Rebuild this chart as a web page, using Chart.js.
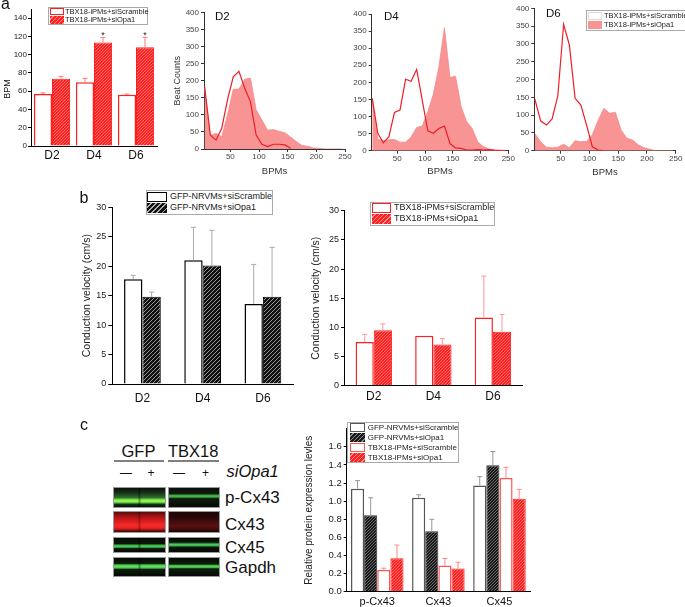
<!DOCTYPE html>
<html>
<head>
<meta charset="utf-8">
<script src="https://cdn.jsdelivr.net/npm/chart.js@4.4.1/dist/chart.umd.min.js"></script>
<style>
  body { margin: 0; width: 685px; height: 607px; position: relative; overflow: hidden; background: #fff;
         font-family: "Liberation Sans", Arial, sans-serif; color: #111; }
  canvas, .t, .lg, .blot, .rule { position: absolute; }
  .t { white-space: nowrap; line-height: 1; }
  .rot { transform: translate(-50%, -50%) rotate(-90deg); }
  .lg { border: 1px solid #aaa; background: #fff; box-sizing: border-box; }
  .sw { position: absolute; box-sizing: border-box; }
  .lt { position: absolute; white-space: nowrap; line-height: 1; color: #222; }
  .blot { box-sizing: border-box; border: 1px solid #999; }
  .rule { background: #808080; height: 1.5px; }
</style>
</head>
<body>

<canvas id="cA" width="165" height="175" style="left:0;top:0"></canvas>
<canvas id="cD2" width="195" height="180" style="left:165px;top:0"></canvas>
<canvas id="cD4" width="175" height="180" style="left:345px;top:0"></canvas>
<canvas id="cD6" width="175" height="180" style="left:510px;top:0"></canvas>
<canvas id="cB1" width="225" height="225" style="left:75px;top:185px"></canvas>
<canvas id="cB2" width="225" height="225" style="left:305px;top:185px"></canvas>
<canvas id="cC" width="245" height="187" style="left:290px;top:420px"></canvas>

<div class="t" style="left:1px;top:-4px;font-size:16px">a</div>
<div class="t" style="left:79.5px;top:190px;font-size:16px">b</div>
<div class="t" style="left:80px;top:416.5px;font-size:16px">c</div>
<div class="t rot" style="left:7px;top:89px;font-size:9px">BPM</div>
<div class="t" style="left:215px;top:11px;font-size:11.5px">D2</div>
<div class="t" style="left:384px;top:11.3px;font-size:11.5px">D4</div>
<div class="t" style="left:546px;top:8px;font-size:11.5px">D6</div>

<!-- western blot -->
<div class="t" style="left:121.5px;top:443.3px;font-size:16.5px">GFP</div>
<div class="t" style="left:168px;top:443.3px;font-size:16.5px">TBX18</div>
<div class="rule" style="left:114px;top:460px;width:50px"></div>
<div class="rule" style="left:168px;top:460px;width:51px"></div>
<div class="t" style="left:120px;top:466.6px;font-size:12px">—</div>
<div class="t" style="left:147.5px;top:466.8px;font-size:12px">+</div>
<div class="t" style="left:173px;top:466.6px;font-size:12px">—</div>
<div class="t" style="left:202px;top:466.8px;font-size:12px">+</div>
<div class="t" style="left:226.5px;top:463.3px;font-size:16.5px;font-style:italic">siOpa1</div>

<div class="blot" style="left:113.3px;top:486.7px;width:52.7px;height:21.6px;background:linear-gradient(to right,rgba(0,0,0,0) 46%,rgba(0,0,0,.35) 50%,rgba(0,0,0,0) 54%),linear-gradient(#0b120b 0%,#16301a 25%,#2f6e2a 50%,#7ee84a 62%,#98ff5a 70%,#5fc83a 77%,#12301a 86%,#0a0f0a 100%)"></div>
<div class="blot" style="left:167.7px;top:486.7px;width:52.3px;height:21.6px;background:linear-gradient(#0a0e0a 0%,#0e1a0e 30%,#3aa040 38%,#4cc050 43%,#3aa040 48%,#0e1a0e 56%,#080a08 100%)"></div>
<div class="blot" style="left:113.3px;top:510.7px;width:52.7px;height:22.6px;background:linear-gradient(to right,rgba(0,0,0,0) 46%,rgba(0,0,0,.25) 50%,rgba(0,0,0,0) 54%),linear-gradient(#5a0c0c 0%,#a01414 20%,#d81c1c 45%,#f52a2a 65%,#e82424 80%,#801010 92%,#300808 100%)"></div>
<div class="blot" style="left:167.7px;top:510.7px;width:52.3px;height:22.6px;background:linear-gradient(#1c0606 0%,#2c0808 30%,#501010 60%,#5a1010 72%,#3a0a0a 88%,#1a0505 100%)"></div>
<div class="blot" style="left:113.3px;top:537.3px;width:52.7px;height:16px;background:linear-gradient(to right,rgba(0,0,0,0) 46%,rgba(0,0,0,.35) 50%,rgba(0,0,0,0) 54%),linear-gradient(#070b07 0%,#0b150b 40%,#3cb04a 52%,#50d060 59%,#3cb04a 66%,#0b150b 76%,#060806 100%)"></div>
<div class="blot" style="left:167.7px;top:537.3px;width:52.3px;height:16px;background:linear-gradient(#070b07 0%,#0b150b 30%,#3cb04a 42%,#50d060 48%,#3cb04a 55%,#0b150b 66%,#060806 100%)"></div>
<div class="blot" style="left:113.3px;top:556.7px;width:52.7px;height:20px;background:linear-gradient(to right,rgba(0,0,0,0) 46%,rgba(0,0,0,.35) 50%,rgba(0,0,0,0) 54%),linear-gradient(#070b07 0%,#0c1c0c 30%,#4ac850 39%,#64e064 47%,#4ac850 55%,#0c1c0c 64%,#060806 100%)"></div>
<div class="blot" style="left:167.7px;top:556.7px;width:52.3px;height:20px;background:linear-gradient(#070b07 0%,#0c1c0c 34%,#40b848 41%,#54d058 47%,#40b848 53%,#0c1c0c 60%,#060806 100%)"></div>

<div class="t" style="left:225px;top:488.9px;font-size:17px">p-Cx43</div>
<div class="t" style="left:225px;top:515.6px;font-size:17px">Cx43</div>
<div class="t" style="left:225px;top:538.9px;font-size:17px">Cx45</div>
<div class="t" style="left:225px;top:558.9px;font-size:17px">Gapdh</div>

<script>
// ---------- data ----------
const dayCats = ['D2', 'D4', 'D6'];
const ipmScrName = 'TBX18-iPMs+siScramble';
const ipmOpaName = 'TBX18-iPMs+siOpa1';
const nrvmScrName = 'GFP-NRVMs+siScramble';
const nrvmOpaName = 'GFP-NRVMs+siOpa1';

// a: beating rate
const bpmScr = [57.0, 69.7, 56.2];
const bpmScrErr = [1.1, 4.4, 0.6];
const bpmOpa = [73.7, 113.4, 108.0];
const bpmOpaErr = [2.6, 5.5, 11.0];
const bpmStars = ['', '*', '*'];
const bpmTicks = [0, 20, 40, 60, 80, 100, 120, 140];

// a: beat rate histograms
const histBins = [5, 15, 25, 35, 45, 55, 65, 75, 85, 95, 105, 115, 125, 135, 145, 155, 165, 175, 185, 195, 205, 215, 225, 235, 245];
const histTicksX = [50, 100, 150, 200, 250];
const histTicksY = [0, 50, 100, 150, 200, 250, 300, 350, 400];
const d2Scr = [185, 41, 26, 61, 144, 212, 228, 178, 139, 41, 14, 7, 14, 14, 12, 2, null, null, null, null, null, null, null, null, null];
const d2Opa = [180, 40, 46, 36, 100, 175, 176, 205, 208, 115, 85, 55, 57, 52, 48, 35, 22, 10, 8, 3, 2, 0, 0, 0, 0];
const d4Scr = [153, 51, 23, 41, 112, 119, 209, 203, 238, 148, 58, 51, 65, 72, 21, 8, 7, 2, 2, 3, 2, 3, 1, 0, 0];
const d4Opa = [150, 33, 30, 32, 33, 25, 25, 40, 68, 72, 114, 165, 245, 360, 214, 218, 129, 85, 65, 26, 12, 5, 3, 2, 1];
const d6Scr = [145, 84, 72, 89, 155, 355, 297, 147, 128, 72, 11, 2, 0, null, null, null, null, null, null, null, null, null, null, null, null];
const d6Opa = [48, 25, 10, 8, 10, 18, 8, 28, 25, 26, 45, 85, 119, 105, 108, 58, 35, 30, 16, 8, 4, 0, 0, 0, 0];

// b: conduction velocity
const cvNrvmScr = [17.8, 21.0, 13.6];
const cvNrvmScrErr = [0.65, 5.6, 6.7];
const cvNrvmOpa = [14.8, 20.1, 14.8];
const cvNrvmOpaErr = [0.8, 6.0, 8.4];
const cvIpmScr = [7.5, 8.55, 11.7];
const cvIpmScrErr = [1.3, 0, 7.1];
const cvIpmOpa = [9.5, 7.05, 9.25];
const cvIpmOpaErr = [1.1, 1.05, 2.95];
const cvTicks = [0, 5, 10, 15, 20, 25, 30];

// c: relative protein expression
const proteins = ['p-Cx43', 'Cx43', 'Cx45'];
const relNrvmScr = [1.137, 1.037, 1.174];
const relNrvmScrErr = [0.09, 0.033, 0.096];
const relNrvmOpa = [0.844, 0.667, 1.396];
const relNrvmOpaErr = [0.193, 0.133, 0.152];
const relIpmScr = [0.24, 0.289, 1.256];
const relIpmScrErr = [0.02, 0.078, 0.118];
const relIpmOpa = [0.37, 0.256, 1.026];
const relIpmOpaErr = [0.145, 0.07, 0.104];
const relTicks = [0, 0.2, 0.4, 0.6, 0.8, 1.0, 1.2, 1.4, 1.6];

// ---------- styles ----------
Chart.defaults.font.family = '"Liberation Sans", Arial, sans-serif';
const RED = '#ff1f1f';
const LINE_RED = '#ee1c25';

function hatch(bg, fg, size, lw) {
  const c = document.createElement('canvas');
  c.width = c.height = size;
  const g = c.getContext('2d');
  g.fillStyle = bg;
  g.fillRect(0, 0, size, size);
  g.strokeStyle = fg;
  g.lineWidth = lw;
  g.beginPath();
  g.moveTo(0, size); g.lineTo(size, 0);
  g.moveTo(-1, 1); g.lineTo(1, -1);
  g.moveTo(size - 1, size + 1); g.lineTo(size + 1, size - 1);
  g.stroke();
  return g.createPattern(c, 'repeat');
}
const redHatch = hatch('#ff2020', '#ff8f8f', 3, 0.7);
const blackHatch = hatch('#111', '#aaa', 4, 0.9);
const darkHatch = hatch('#1a1a1a', '#888', 3, 0.7);

// fixes an axis size so the plot area lands where the reference has it
function fit(size) {
  return s => {
    if (s.isHorizontal()) s.height = size; else s.width = size;
    s.paddingLeft = s.paddingRight = s.paddingTop = s.paddingBottom = 0;
  };
}

const errorBars = {
  id: 'errorBars',
  afterDatasetsDraw(chart) {
    const ctx = chart.ctx, ys = chart.scales.y;
    chart.data.datasets.forEach((ds, i) => {
      if (!ds.errors) return;
      chart.getDatasetMeta(i).data.forEach((bar, j) => {
        const e = ds.errors[j];
        const top = ys.getPixelForValue(ds.data[j] + (e || 0));
        ctx.save();
        if (e) {
          ctx.strokeStyle = ds.errorColor;
          ctx.lineWidth = 1;
          ctx.beginPath();
          ctx.moveTo(bar.x, bar.y);
          ctx.lineTo(bar.x, top);
          ctx.moveTo(bar.x - 2.5, top);
          ctx.lineTo(bar.x + 2.5, top);
          ctx.stroke();
        }
        if (ds.stars && ds.stars[j]) {
          ctx.fillStyle = '#222';
          ctx.font = '9px "Liberation Sans", Arial';
          ctx.textAlign = 'center';
          ctx.fillText(ds.stars[j], bar.x, top + 1);
        }
        ctx.restore();
      });
    });
  }
};

function barChart(id, cats, sets, g) {
  return new Chart(document.getElementById(id), {
    type: 'bar',
    data: { labels: cats, datasets: sets },
    options: {
      responsive: false,
      animation: false,
      layout: { padding: { top: g.top, right: g.right, left: 0, bottom: 0 } },
      datasets: { bar: { categoryPercentage: g.cat, barPercentage: 1 } },
      plugins: { legend: { display: false }, tooltip: { enabled: false } },
      scales: {
        x: {
          grid: { display: false, drawTicks: false, tickLength: 0 },
          border: { color: '#000' },
          ticks: { color: '#111', font: { size: g.xFont }, padding: g.xPad },
          afterFit: fit(g.xh)
        },
        y: {
          min: 0, max: g.max,
          afterBuildTicks: s => { s.ticks = g.ticks.map(v => ({ value: v })); },
          grid: { drawOnChartArea: false, color: '#000', tickLength: g.tl },
          border: { color: '#000' },
          ticks: { color: '#222', font: { size: g.yFont }, padding: g.yPad, callback: g.fmt || (v => v) },
          title: g.title
            ? { display: true, text: g.title, color: '#222', font: { size: g.titleFont }, padding: { top: g.titlePad, bottom: 0 } }
            : { display: false },
          afterFit: fit(g.yw)
        }
      }
    },
    plugins: [errorBars]
  });
}

function histChart(id, scr, opa, g) {
  return new Chart(document.getElementById(id), {
    type: 'line',
    data: {
      datasets: [
        { label: ipmScrName, data: histBins.map((b, i) => ({ x: b, y: scr[i] })),
          borderColor: LINE_RED, borderWidth: 1.2, pointRadius: 0, fill: false },
        { label: ipmOpaName, data: histBins.map((b, i) => ({ x: b, y: opa[i] })),
          borderColor: '#f58a8a', borderWidth: 0.8, backgroundColor: '#f89494', pointRadius: 0, fill: 'origin' }
      ]
    },
    options: {
      responsive: false,
      animation: false,
      layout: { padding: { top: g.top, right: g.right, left: 0, bottom: 0 } },
      plugins: { legend: { display: false }, tooltip: { enabled: false } },
      scales: {
        x: {
          type: 'linear', min: 4, max: 250,
          afterBuildTicks: s => { s.ticks = histTicksX.map(v => ({ value: v })); },
          grid: { drawOnChartArea: false, color: '#333', tickLength: 3 },
          border: { color: '#333' },
          ticks: { color: '#444', font: { size: 8 }, padding: 0 },
          title: { display: true, text: 'BPMs', color: '#333', font: { size: 9.5 }, padding: { top: 0, bottom: g.tb } },
          afterFit: fit(g.xh)
        },
        y: {
          min: 0, max: 400,
          afterBuildTicks: s => { s.ticks = histTicksY.map(v => ({ value: v })); },
          grid: { drawOnChartArea: false, color: '#333', tickLength: 3 },
          border: { color: '#333' },
          ticks: { color: '#444', font: { size: 8 }, padding: 2 },
          title: g.title
            ? { display: true, text: g.title, color: '#333', font: { size: 9 }, padding: { top: g.titlePad, bottom: 0 } }
            : { display: false },
          afterFit: fit(g.yw)
        }
      }
    }
  });
}

// ---------- panel a ----------
barChart('cA', dayCats, [
  { label: ipmScrName, data: bpmScr, errors: bpmScrErr, errorColor: '#f77', backgroundColor: '#fff', borderColor: RED, borderWidth: 1.5 },
  { label: ipmOpaName, data: bpmOpa, errors: bpmOpaErr, stars: bpmStars, errorColor: '#f77', backgroundColor: redHatch, borderColor: RED, borderWidth: 1 }
], { top: 9, right: 8, xh: 29, yw: 31, max: 150, ticks: bpmTicks, cat: 0.86, xFont: 12, xPad: 2, yFont: 8, yPad: 1, tl: 3 });

histChart('cD2', d2Scr, d2Opa, { top: 12.7, right: 15, xh: 31, yw: 39, tb: 3.3, title: 'Beat Counts', titlePad: 7.6 });
histChart('cD4', d4Scr, d4Opa, { top: 14, right: 11.7, xh: 29.3, yw: 26.7, tb: 2.6 });
histChart('cD6', d6Scr, d6Opa, { top: 8.3, right: 9.3, xh: 29.3, yw: 24.3, tb: 1.8 });

// ---------- panel b ----------
barChart('cB1', dayCats, [
  { label: nrvmScrName, data: cvNrvmScr, errors: cvNrvmScrErr, errorColor: '#aaa', backgroundColor: '#fff', borderColor: '#000', borderWidth: 1.5 },
  { label: nrvmOpaName, data: cvNrvmOpa, errors: cvNrvmOpaErr, errorColor: '#aaa', backgroundColor: blackHatch, borderColor: '#000', borderWidth: 1 }
], { top: 22.3, right: 7, xh: 26, yw: 37.3, max: 30, ticks: cvTicks, cat: 0.61, xFont: 12, xPad: 7, yFont: 9, yPad: 2, tl: 4,
     title: 'Conduction velocity (cm/s)', titleFont: 10.5, titlePad: 6.2 });

barChart('cB2', dayCats, [
  { label: ipmScrName, data: cvIpmScr, errors: cvIpmScrErr, errorColor: '#f99', backgroundColor: '#fff', borderColor: RED, borderWidth: 1.5 },
  { label: ipmOpaName, data: cvIpmOpa, errors: cvIpmOpaErr, errorColor: '#f99', backgroundColor: redHatch, borderColor: RED, borderWidth: 1 }
], { top: 25.7, right: 7.3, xh: 24.3, yw: 39, max: 30, ticks: cvTicks, cat: 0.61, xFont: 12, xPad: 3.6, yFont: 9, yPad: 2, tl: 3,
     title: 'Conduction velocity (cm/s)', titleFont: 10.5, titlePad: 4.7 });

// ---------- panel c ----------
barChart('cC', proteins, [
  { label: nrvmScrName, data: relNrvmScr, errors: relNrvmScrErr, errorColor: '#999', backgroundColor: '#fff', borderColor: '#555', borderWidth: 1.5 },
  { label: nrvmOpaName, data: relNrvmOpa, errors: relNrvmOpaErr, errorColor: '#999', backgroundColor: darkHatch, borderColor: '#333', borderWidth: 1 },
  { label: ipmScrName, data: relIpmScr, errors: relIpmScrErr, errorColor: '#f88', backgroundColor: '#fff', borderColor: '#f55', borderWidth: 1.5 },
  { label: ipmOpaName, data: relIpmOpa, errors: relIpmOpaErr, errorColor: '#f88', backgroundColor: redHatch, borderColor: RED, borderWidth: 1 }
], { top: 8.7, right: 5, xh: 15.3, yw: 56.7, max: 1.8, ticks: relTicks, cat: 0.86, xFont: 11, xPad: 3.7, yFont: 9.5, yPad: 2, tl: 3,
     fmt: v => v.toFixed(1), title: 'Relative protein expression levles', titleFont: 10, titlePad: 13 });

// ---------- legends ----------
const swWhiteRed = { bg: '#fff', border: '1.5px solid ' + RED };
const swRedHatch = { bg: 'repeating-linear-gradient(135deg,#ff2020 0 2px,#ff9090 2px 3px)' };
const swWhiteBlack = { bg: '#fff', border: '1.5px solid #000' };
const swBlackHatch = { bg: 'repeating-linear-gradient(135deg,#111 0 2.6px,#aaa 2.6px 3.6px)' };
const swWhiteGray = { bg: '#fff', border: '1.5px solid #555' };
const swDarkHatch = { bg: 'repeating-linear-gradient(135deg,#1a1a1a 0 2px,#888 2px 3px)' };

function legend(x, y, w, h, font, row0, rowH, swX, swW, txtX, items) {
  const box = document.createElement('div');
  box.className = 'lg';
  Object.assign(box.style, { left: x + 'px', top: y + 'px', width: w + 'px', height: h + 'px' });
  items.forEach((it, i) => {
    const top = row0 + i * rowH;
    const sw = document.createElement('div');
    sw.className = 'sw';
    Object.assign(sw.style, { left: swX + 'px', top: top + 'px', width: swW + 'px', height: (rowH - 1) + 'px',
                              background: it.bg, border: it.border || 'none' });
    const t = document.createElement('div');
    t.className = 'lt';
    t.textContent = it.label;
    Object.assign(t.style, { left: txtX + 'px', top: (top + (rowH - 1) / 2 - font / 2) + 'px', fontSize: font + 'px' });
    box.append(sw, t);
  });
  document.body.appendChild(box);
}

legend(48, 6.7, 100, 18.5, 7.5, 0, 8.5, 0.5, 14, 16, [
  { label: ipmScrName, ...swWhiteRed }, { label: ipmOpaName, ...swRedHatch }]);
legend(586, 10, 105, 20.5, 7.5, 0.7, 9, 0.7, 14, 17, [
  { label: ipmScrName, bg: '#fff', border: '1px solid #e8d8d8' }, { label: ipmOpaName, bg: '#f89494' }]);
legend(146, 190, 127.3, 24.5, 9, 0.7, 11, 0.3, 20, 23, [
  { label: nrvmScrName, ...swWhiteBlack }, { label: nrvmOpaName, ...swBlackHatch }]);
legend(370, 201.7, 125, 24.3, 9, 0, 11, 0.7, 19.3, 23, [
  { label: ipmScrName, ...swWhiteRed }, { label: ipmOpaName, ...swRedHatch }]);
legend(346.7, 422, 112, 41, 8, 0, 10, 2.3, 15, 20, [
  { label: nrvmScrName, ...swWhiteGray }, { label: nrvmOpaName, ...swDarkHatch },
  { label: ipmScrName, bg: '#fff', border: '1.5px solid #f55' }, { label: ipmOpaName, ...swRedHatch }]);
</script>
</body>
</html>
